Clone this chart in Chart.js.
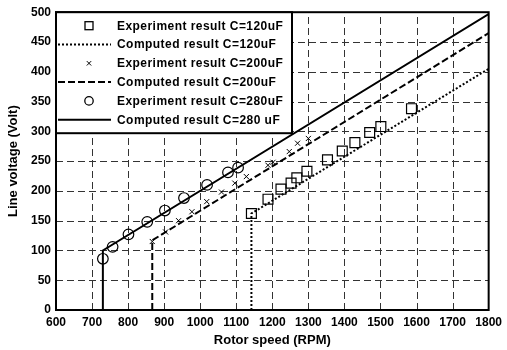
<!DOCTYPE html>
<html>
<head>
<meta charset="utf-8">
<script src="https://cdn.jsdelivr.net/npm/chart.js@4.4.1/dist/chart.umd.min.js"></script>
<style>
  html, body { margin: 0; padding: 0; background: #fff; }
  #wrap { width: 507px; height: 350px; }
</style>
</head>
<body>
<div id="wrap"><canvas id="myChart"></canvas></div>
<script>
// measured points, C = 120uF / 200uF / 280uF
const rpm120 = [1142, 1188, 1224, 1252, 1268, 1296, 1353, 1394, 1429, 1470, 1501, 1586];
const volt120 = [162, 186, 203, 213, 222, 233, 252, 267, 281, 298, 308, 338];
const rpm200 = [867, 904, 940, 977, 1018, 1059, 1096, 1128, 1188, 1202, 1247, 1270, 1300];
const volt200 = [115, 131, 150, 165, 182, 198, 213, 224, 243, 248, 266, 280, 288];
const rpm280 = [730, 757, 801, 853, 902, 955, 1019, 1077, 1105];
const volt280 = [86, 106, 127, 148, 167, 188, 210, 231, 239];

// computed curves (vertical jump at self-excitation, then straight line)
const calcRpm120 = [1142, 1142, 1800];
const calcVolt120 = [0, 162, 405];
const calcRpm200 = [867, 867, 1800];
const calcVolt200 = [0, 117, 465];
const calcRpm280 = [730, 730, 1800];
const calcVolt280 = [0, 100, 497];

const xTicks = [600, 700, 800, 900, 1000, 1100, 1200, 1300, 1400, 1500, 1600, 1700, 1800];
const yTicks = [0, 50, 100, 150, 200, 250, 300, 350, 400, 450, 500];

function pts(xs, ys) {
  return xs.map((x, i) => ({x: x, y: ys[i]}));
}

const FONT = '"Liberation Sans", Arial, sans-serif';
Chart.defaults.font.family = FONT;
Chart.defaults.color = '#000';

// dashed grid behind the data
const dashedGrid = {
  id: 'dashedGrid',
  beforeDatasetsDraw(chart) {
    const ctx = chart.ctx;
    const a = chart.chartArea;
    const sx = chart.scales.x, sy = chart.scales.y;
    ctx.save();
    ctx.strokeStyle = '#333';
    ctx.lineWidth = 1;
    ctx.setLineDash([7, 4]);
    xTicks.slice(1, -1).forEach(v => {
      const px = Math.round(sx.getPixelForValue(v)) + 0.5;
      ctx.beginPath();
      ctx.moveTo(px, a.bottom);
      ctx.lineTo(px, a.top);
      ctx.stroke();
    });
    yTicks.slice(1, -1).forEach(v => {
      const py = Math.round(sy.getPixelForValue(v)) + 0.5;
      ctx.beginPath();
      ctx.moveTo(a.left, py);
      ctx.lineTo(a.right, py);
      ctx.stroke();
    });
    ctx.restore();
  }
};

// legend box drawn inside the plot, plus the frame around the plot
const insideLegend = {
  id: 'insideLegend',
  afterDraw(chart) {
    const ctx = chart.ctx;
    const a = chart.chartArea;
    ctx.save();
    ctx.strokeStyle = '#000';
    ctx.lineWidth = 2;
    ctx.setLineDash([]);
    ctx.strokeRect(a.left, a.top, a.right - a.left, a.bottom - a.top);

    const bx = a.left, by = a.top, bw = 236, bh = 121;
    ctx.fillStyle = '#fff';
    ctx.fillRect(bx, by, bw, bh);
    ctx.strokeRect(bx, by, bw, bh);

    ctx.font = 'bold 12px ' + FONT;
    ctx.letterSpacing = '0.45px';
    ctx.textBaseline = 'middle';
    chart.data.datasets.forEach((ds, i) => {
      const y = by + 13.5 + i * 18.8;
      const mx = bx + 33;
      ctx.strokeStyle = '#000';
      ctx.lineWidth = 1.3;
      ctx.setLineDash([]);
      if (ds.showLine) {
        ctx.lineWidth = ds.borderWidth;
        ctx.setLineDash(ds.borderDash || []);
        ctx.beginPath();
        ctx.moveTo(bx + 2, y);
        ctx.lineTo(bx + 55, y);
        ctx.stroke();
      } else if (ds.pointStyle === 'rect') {
        ctx.strokeRect(mx - 4, y - 4, 8, 8);
      } else if (ds.pointStyle === 'circle') {
        ctx.beginPath();
        ctx.arc(mx, y, 4.2, 0, Math.PI * 2);
        ctx.stroke();
      } else {
        ctx.lineWidth = 1;
        ctx.beginPath();
        ctx.moveTo(mx - 2.2, y - 2.2); ctx.lineTo(mx + 2.2, y + 2.2);
        ctx.moveTo(mx + 2.2, y - 2.2); ctx.lineTo(mx - 2.2, y + 2.2);
        ctx.stroke();
      }
      ctx.fillStyle = '#000';
      ctx.setLineDash([]);
      ctx.fillText(ds.label, bx + 61, y + 0.5);
    });
    ctx.restore();
  }
};

new Chart('myChart', {
  type: 'scatter',
  data: {
    datasets: [{
      label: 'Experiment result C=120uF',
      data: pts(rpm120, volt120),
      pointStyle: 'rect',
      pointRadius: 7,
      borderColor: '#000',
      backgroundColor: 'rgba(0,0,0,0)',
      pointBorderWidth: 1.2
    }, {
      label: 'Computed result C=120uF',
      data: pts(calcRpm120, calcVolt120),
      showLine: true,
      pointRadius: 0,
      borderColor: '#000',
      borderWidth: 2,
      borderDash: [2, 2]
    }, {
      label: 'Experiment result C=200uF',
      data: pts(rpm200, volt200),
      pointStyle: 'crossRot',
      pointRadius: 3.6,
      borderColor: '#000',
      pointBorderWidth: 1
    }, {
      label: 'Computed result C=200uF',
      data: pts(calcRpm200, calcVolt200),
      showLine: true,
      pointRadius: 0,
      borderColor: '#000',
      borderWidth: 2,
      borderDash: [7, 3]
    }, {
      label: 'Experiment result C=280uF',
      data: pts(rpm280, volt280),
      pointStyle: 'circle',
      pointRadius: 5.3,
      borderColor: '#000',
      backgroundColor: 'rgba(0,0,0,0)',
      pointBorderWidth: 1.2
    }, {
      label: 'Computed result C=280 uF',
      data: pts(calcRpm280, calcVolt280),
      showLine: true,
      pointRadius: 0,
      borderColor: '#000',
      borderWidth: 2
    }]
  },
  options: {
    responsive: true,
    maintainAspectRatio: false,
    animation: false,
    layout: {padding: {left: 0, right: 14, top: 12, bottom: 0}},
    plugins: {
      legend: {display: false},
      tooltip: {enabled: false}
    },
    scales: {
      x: {
        type: 'linear',
        min: 600,
        max: 1800,
        afterBuildTicks: s => { s.ticks = xTicks.map(v => ({value: v})); },
        afterFit: s => { s.height = 40; },
        ticks: {
          font: {size: 12, weight: 'bold'},
          padding: 5,
          maxRotation: 0,
          callback: v => String(v)
        },
        grid: {display: false, drawTicks: false},
        border: {display: false},
        title: {
          display: true,
          text: 'Rotor speed (RPM)',
          font: {size: 13, weight: 'bold'},
          padding: {top: 2, bottom: 2}
        }
      },
      y: {
        type: 'linear',
        min: 0,
        max: 500,
        afterBuildTicks: s => { s.ticks = yTicks.map(v => ({value: v})); },
        afterFit: s => { s.width = 56; },
        ticks: {
          font: {size: 12, weight: 'bold'},
          padding: 5,
          callback: v => String(v)
        },
        grid: {display: false, drawTicks: false},
        border: {display: false},
        title: {
          display: true,
          text: 'Line voltage (Volt)',
          font: {size: 13, weight: 'bold'},
          padding: {top: 6, bottom: 4}
        }
      }
    }
  },
  plugins: [dashedGrid, insideLegend]
});
</script>
</body>
</html>
